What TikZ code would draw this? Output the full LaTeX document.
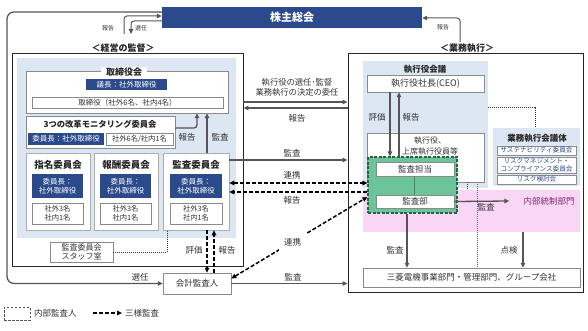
\documentclass[tikz,border=0pt]{standalone}
\usepackage{fontspec}
\setmainfont{Noto Sans CJK JP}
\usetikzlibrary{arrows.meta}
\definecolor{navy}{HTML}{2B4A8B}
\definecolor{lblue}{HTML}{DDE7F3}
\definecolor{agray}{HTML}{555555}
\definecolor{bgray}{HTML}{8A8A8A}
\definecolor{gfill}{HTML}{6CC49A}
\definecolor{gline}{HTML}{2E5E45}
\definecolor{pinkbg}{HTML}{F9D5F6}
\definecolor{purp}{HTML}{7B2C6E}
\definecolor{tgray}{HTML}{333333}
\begin{document}
\begin{tikzpicture}[x=1pt,y=-1pt,
  every node/.style={inner sep=0pt, text=tgray},
  wbox/.style={draw=bgray, fill=white, line width=0.5pt, align=center},
  nbox/.style={fill=navy, text=white, align=center, font=\fontsize{7.5}{9}\selectfont},
  bgpanel/.style={fill=lblue, draw=none},
  frame/.style={draw=black!85, line width=0.9pt},
  ttl/.style={font=\fontsize{9}{10}\selectfont\bfseries, text=black!85},
  lbl/.style={font=\fontsize{8.5}{10}\selectfont},
  tiny/.style={font=\fontsize{6}{7}\selectfont},
  sm/.style={font=\fontsize{7.3}{9}\selectfont, align=center},
  sub/.style={wbox, font=\fontsize{6.6}{7.6}\selectfont, text=navy, minimum width=79pt},
  arr/.style={draw=agray, line width=1.3pt, -{Triangle[length=5pt,width=4.5pt]}},
  darr/.style={draw=black, line width=1.5pt, dash pattern=on 4pt off 2pt, -{Triangle[length=5pt,width=4.5pt]}},
  dotl/.style={draw=black!80, line width=0.9pt, dash pattern=on 1pt off 1pt},
]
\useasboundingbox (0,0) rectangle (588,331);

% banner
\node[fill=navy, minimum width=260pt, minimum height=21pt, text=white, font=\fontsize{11}{12}\selectfont\bfseries] (banner) at (292,17.5) {株主総会};

% ---------- left side ----------
\node[frame, minimum width=231pt, minimum height=213pt] (leftbox) at (127.5,159.5) {};
\node[bgpanel, minimum width=219pt, minimum height=180pt] (leftbg) at (126.5,148) {};
\node[ttl] (lhead) at (123,48) {＜経営の監督＞};

\node[wbox, minimum width=202pt, minimum height=42pt] (board) at (127,92) {};
\node[ttl, fill=white, inner xsep=5pt, inner ysep=1pt] (boardt) at (124,72) {取締役会};
\node[nbox, minimum width=81pt, minimum height=11pt] (chair) at (126.5,84.5) {議長：社外取締役};
\node[wbox, sm, font=\fontsize{7.5}{9}\selectfont, minimum width=191pt, minimum height=11pt] (dirs) at (127.5,102.5) {取締役（社外6名、社内4名）};

\node[wbox, minimum width=149pt, minimum height=32pt] (monitor) at (100.5,132) {};
\node[ttl, font=\fontsize{8.3}{10}\selectfont\bfseries] (monitort) at (100,124.5) {3つの改革モニタリング委員会};
\node[nbox, minimum width=76pt, minimum height=12pt] (mchair) at (66,139) {委員長：社外取締役};
\node[wbox, sm, minimum width=67pt, minimum height=12pt] (mmem) at (139.5,139) {社外6名/社内1名};

\node[wbox, draw=bgray!70, minimum width=64pt, minimum height=77pt] (nom) at (58,191.5) {};
\node[ttl, font=\fontsize{9.5}{11}\selectfont\bfseries] (nomt) at (58,165) {指名委員会};
\node[nbox, minimum width=51pt, minimum height=24pt] (nomc) at (57.5,186) {委員長：\\社外取締役};
\node[wbox, sm, minimum width=51pt, minimum height=21pt] (nomm) at (57.5,213.5) {社外3名\\社内1名};

\node[wbox, draw=bgray!70, minimum width=64pt, minimum height=77pt] (rem) at (126,191.5) {};
\node[ttl, font=\fontsize{9.5}{11}\selectfont\bfseries] (remt) at (126,165) {報酬委員会};
\node[nbox, minimum width=51pt, minimum height=24pt] (remc) at (125.5,186) {委員長：\\社外取締役};
\node[wbox, sm, minimum width=51pt, minimum height=21pt] (remm) at (125.5,213.5) {社外3名\\社内1名};

\node[wbox, draw=bgray!70, minimum width=66pt, minimum height=77pt] (aud) at (196,191.5) {};
\node[ttl, font=\fontsize{9.5}{11}\selectfont\bfseries] (audt) at (196,165) {監査委員会};
\node[nbox, minimum width=52pt, minimum height=24pt] (audc) at (196,186) {委員長：\\社外取締役};
\node[wbox, sm, minimum width=52pt, minimum height=21pt] (audm) at (196,213.5) {社外3名\\社内1名};

\node[wbox, font=\fontsize{8}{9.5}\selectfont, minimum width=63pt, minimum height=20pt] (staff) at (81.5,252) {監査委員会\\スタッフ室};
\node[wbox, font=\fontsize{8.5}{10}\selectfont, minimum width=68pt, minimum height=21pt] (auditor) at (197,283.5) {会計監査人};

% ---------- right side ----------
\node[frame, minimum width=235pt, minimum height=239pt] (rightbox) at (465.5,172.5) {};
\node[ttl] (rhead) at (467,48) {＜業務執行＞};
\node[bgpanel, minimum width=125pt, minimum height=127pt] (execbg) at (425.5,124.5) {};
\node[fill=pinkbg, minimum width=217pt, minimum height=42pt] (pink) at (471.5,211) {};
\node[ttl, font=\fontsize{8.5}{10}\selectfont\bfseries] (exect) at (425,69) {執行役会議};
\node[wbox, font=\fontsize{9}{10}\selectfont, minimum width=117pt, minimum height=17pt] (ceo) at (425.5,83.5) {執行役社長(CEO)};
\node[wbox, minimum width=117pt, minimum height=49pt] (officers) at (425.5,157.5) {};
\node[font=\fontsize{8}{11}\selectfont, align=center] (officerst) at (430,146) {執行役、\\上席執行役員等};

\node[fill=gfill, draw=gline, dash pattern=on 3pt off 1.5pt, line width=1.2pt, minimum width=89pt, minimum height=56pt] (green) at (412.5,185) {};
\node[wbox, font=\fontsize{8.5}{10}\selectfont, minimum width=78pt, minimum height=14pt] (tanto) at (415,169) {監査担当};
\node[wbox, font=\fontsize{8.5}{10}\selectfont, minimum width=78pt, minimum height=13pt] (bu) at (415,201.5) {監査部};
\draw[draw=gline!80, line width=0.5pt] (tanto.south -| 414,0) -- (bu.north -| 414,0);

\node[bgpanel, minimum width=87pt, minimum height=58pt] (bizbg) at (536.5,157) {};
\node[ttl, font=\fontsize{8.5}{10}\selectfont\bfseries] (bizt) at (537,138) {業務執行会議体};
\node[sub, minimum height=9pt] (sust) at (536.5,150.5) {サステナビリティ委員会};
\node[sub, minimum height=16pt] (rmc) at (536.5,165) {リスクマネジメント・\\コンプライアンス委員会};
\node[sub, minimum height=9pt] (rkt) at (536.5,179.5) {リスク検討会};

\node[font=\fontsize{8.5}{10}\selectfont, text=purp] (naibu) at (549,201) {内部統制部門};
\node[wbox, font=\fontsize{8.5}{10}\selectfont, minimum width=217pt, minimum height=19pt] (mits) at (471.5,277.5) {三菱電機事業部門・管理部門、グループ会社};

% ---------- connectors ----------
% outer 選任 line to 会計監査人
\draw[arr, rounded corners=7pt] ([yshift=5.5pt]banner.west) -- (7,12) -- (7,283.5) -- (auditor.west);
\node[lbl] (l1) at (140,277) {選任};
% top small arrows
\coordinate (tl1) at (124,34);
\coordinate (tl2) at (131,34);
\draw[arr, line width=1pt, rounded corners=3pt] (tl1) |- ([yshift=1.5pt]banner.west);
\draw[arr, line width=1pt, rounded corners=3pt] ([yshift=-3.5pt]banner.west) -| (tl2);
\node[tiny] (l2) at (108,28) {報告};
\node[tiny] (l3) at (141,28) {選任};
\coordinate (tr1) at (460,42);
\draw[arr, line width=1pt, rounded corners=3pt] (tr1) |- ([yshift=-0.5pt]banner.east);
\node[tiny] (l4) at (443,27) {報告};

% inside left box
\draw[arr] (aud.north -| 207,0) -- (board.south -| 207,0);
\draw[arr, rounded corners=3pt] (monitor.east |- 0,128) -| (board.south -| 197,0);
\node[lbl] (l5) at (187,137) {報告};
\node[lbl] (l6) at (220,137) {監査};
\draw[dotl] (staff.east) -| (aud.south -| 167,0);
\draw[darr] (aud.south -| 207,0) -- (auditor.north -| 207,0);
\draw[darr] (auditor.north -| 214,0) -- (aud.south -| 214,0);
\node[lbl] (l7) at (194,250) {評価};
\node[lbl] (l8) at (227,250) {報告};

% middle
\node[lbl, align=center, font=\fontsize{8.3}{9.5}\selectfont] (mid) at (297,87.5) {執行役の選任･監督\\業務執行の決定の委任};
\draw[arr] (leftbox.east |- 0,102) -- (rightbox.west |- 0,102);
\draw[arr] (rightbox.west |- 0,108) -- (leftbox.east |- 0,108);
\node[lbl] (l9) at (297,118) {報告};
\draw[arr] (aud.east |- 0,160) -- (rightbox.west |- 0,160);
\node[lbl] (l10) at (292,153) {監査};
\draw[darr, {Triangle[length=5pt,width=4.5pt]}-{Triangle[length=5pt,width=4.5pt]}] (aud.east |- 0,183) -- (green.west |- 0,183);
\node[lbl] (l11) at (292,175) {連携};
\draw[darr] (green.west |- 0,192) -- (aud.east |- 0,192);
\node[lbl] (l12) at (292,200) {報告};
\draw[darr, {Triangle[length=5pt,width=4.5pt]}-{Triangle[length=5pt,width=4.5pt]}] ([yshift=5pt]auditor.east) -- node[pos=0.45, lbl, fill=white, inner xsep=5pt, inner ysep=9pt] (l13) {連携} ([yshift=-12pt]green.west);
\draw[arr] (auditor.east) -- (rightbox.west |- auditor.east);
\node[lbl] (l14) at (293,277) {監査};

% right box
\draw[arr] (ceo.south -| 390,0) -- (green.north -| 390,0);
\draw[arr] (green.north -| 399,0) -- (ceo.south -| 399,0);
\node[lbl] (l15) at (377,117) {評価};
\node[lbl] (l16) at (411,117) {報告};
\draw[arr] (bu.east) -- ([xshift=-14pt]naibu.west);
\node[lbl] (l17) at (486,207) {監査};
\draw[arr] (green.south -| 407,0) -- (mits.north -| 407,0);
\node[lbl] (l18) at (395,250) {監査};
\draw[arr] (pink.south -| 523,0) -- (mits.north -| 523,0);
\node[lbl] (l19) at (509,250) {点検};
\draw[dotl] (execbg.east |- 0,107) -| (bizbg.north -| 535,0);
\draw[dotl] (officers.south -| 467,0) -- (pink.north -| 467,0);
\draw[dotl, line width=0.6pt, draw=black!60] (officers.south -| 477,0) -- (mits.north -| 477,0);

% legend
\node[draw=agray, dash pattern=on 2.5pt off 1.5pt, line width=0.9pt, minimum width=26pt, minimum height=13pt] (lgbox) at (17,313.5) {};
\node[lbl, anchor=west] (lgt1) at (34,313) {内部監査人};
\coordinate (lga) at (93,313);
\coordinate (lgb) at (122,313);
\draw[darr, line width=1.2pt] (lga) -- (lgb);
\node[lbl, anchor=west] (lgt2) at (125,313) {三様監査};
\end{tikzpicture}
\end{document}
